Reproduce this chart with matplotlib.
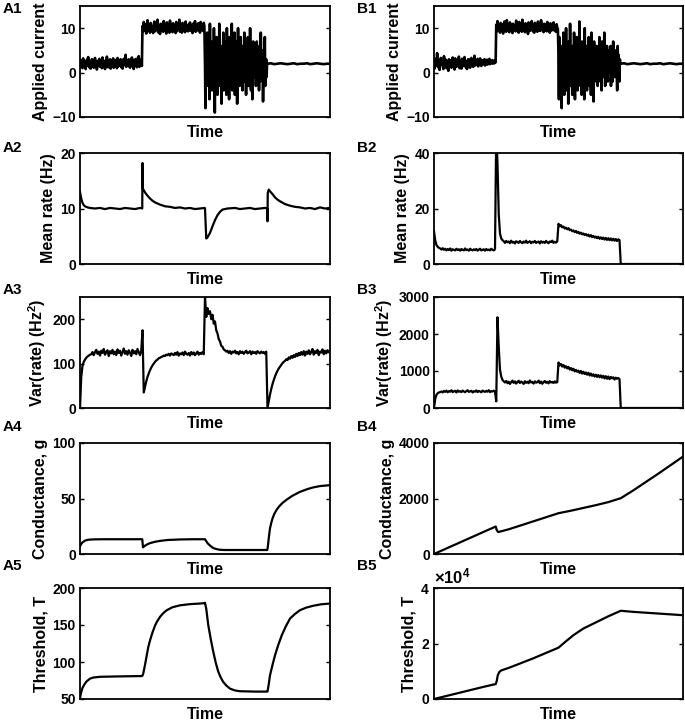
import numpy as np
import matplotlib
matplotlib.use("Agg")
import matplotlib.pyplot as plt

plt.rcParams["font.family"] = ["Liberation Sans", "DejaVu Sans"]
plt.rcParams["font.weight"] = "bold"
plt.rcParams["axes.labelweight"] = "bold"
plt.rcParams["mathtext.fontset"] = "custom"
plt.rcParams["mathtext.rm"] = "Liberation Sans:bold"
plt.rcParams["mathtext.bf"] = "Liberation Sans:bold"
plt.rcParams["mathtext.default"] = "bf"

# stimulus switch times (fraction of the run)
switch_times = [0.0, 0.25, 0.5, 0.75, 1.0]

# ---- column A: applied current, sampled per stimulus epoch
a1_seg1 = [2.1, 1.4, 2.8, 1.9, 1.0, 3.2, 2.4, 1.7, 2.5, 0.8, 2.0, 2.9, 1.6, 3.5, 2.2, 1.2, 2.2, 0.9, 1.8, 3.0,
           1.8, 2.6, 1.1, 2.0, 3.3, 1.5, 2.4, 0.7, 1.9, 2.7, 1.9, 3.1, 1.3, 2.5, 2.3, 1.0, 3.4, 1.6, 2.1, 2.0,
           0.8, 2.8, 1.4, 3.6, 2.3, 1.2, 2.5, 1.7, 3.0, 0.9, 2.2, 2.6, 1.5, 3.2, 1.1, 2.0, 2.4, 1.8, 2.9, 1.0,
           3.3, 1.4, 2.2, 1.6, 2.6, 3.0, 1.2, 2.7, 0.9, 1.9, 3.1, 1.7, 2.3, 4.0, 1.3, 2.1, 2.8, 1.5, 3.0, 1.8,
           1.1, 2.6, 2.0, 3.4, 1.4, 2.3, 0.8, 2.9, 1.6, 2.4, 3.1, 1.2, 2.5, 1.9, 3.7, 1.3, 2.2, 1.7, 2.9, 1.5]
a1_seg2 = [10.5, 9.2, 11.4, 10.1, 9.6, 10.9, 8.8, 10.3, 11.8, 9.4, 10.6, 9.9, 9.0, 11.2, 10.2, 9.7, 10.3, 8.9, 10.8, 11.5,
           9.3, 10.8, 10.0, 9.8, 11.9, 9.1, 10.4, 10.6, 8.7, 11.0, 9.5, 10.2, 10.7, 9.2, 11.6, 9.9, 10.5, 10.2, 8.8, 11.3,
           9.4, 10.1, 10.9, 9.0, 11.7, 10.3, 9.6, 10.5, 9.1, 11.1, 9.8, 10.4, 10.6, 8.9, 11.4, 9.3, 10.0, 10.8, 9.7, 11.9,
           9.2, 10.3, 10.5, 9.0, 11.2, 9.5, 10.1, 10.7, 9.1, 11.5, 9.6, 10.4, 10.0, 9.3, 10.9, 9.8, 11.3, 9.4, 10.6, 10.2,
           8.9, 11.0, 9.7, 10.4, 11.6, 9.2, 10.1, 10.8, 9.5, 11.1, 9.9, 10.3, 9.0, 11.4, 10.2, 9.6, 10.7, 9.4, 11.2, 10.5]
a1_seg3 = [2, -8, 6, 1, -1, 9, 3, -3, 4, 0, -6, 11, 2, 0, 7, -2, -4, 3, 5, -2,
           10, 1, -9, 5, 0, 1, 8, -1, -5, 2, 4, -3, 11, 2, -1, 6, -2, -7, 4, 0,
           3, 9, -4, 1, 3, -2, 7, 0, -5, 10, 2, -1, 5, 3, -6, 8, 1, 4, -3, 0,
           11, -4, 2, 6, -2, 1, 9, -5, 3, 0, 3, 7, -7, 1, 10, -1, 4, 5, -3, 2,
           8, -2, 0, 6, -4, 3, 4, 1, 9, -2, 5, 0, -5, 3, 3, 0, 8, -3, 2, 6,
           -1, 10, 1, -4, 2, 4, -6, 3, 7, 0, 4, -1, 2, 5, -3, 1, 7, -2, 3, 0,
           4, -4, 6, 1, -2, 9, 2, -1, 5, 3, -6.5, 0, 4, 2, 8, -3, 1, 3, -1, 2]
a1_seg4 = [2.0, 2.1, 1.9, 2.0, 2.1, 2.0, 1.9, 2.0, 2.1, 1.9, 2.0, 2.0, 2.1, 1.9, 2.0, 2.1, 2.0, 1.9, 2.0, 2.0]

# mean rate (Hz)
a2_t = [0, 0.005, 0.01, 0.015, 0.02, 0.03, 0.04, 0.06, 0.08, 0.10, 0.12, 0.14, 0.16, 0.18, 0.20, 0.22, 0.24, 0.249,
        0.25, 0.251, 0.255, 0.26, 0.27, 0.28, 0.29, 0.30, 0.32, 0.34, 0.36, 0.38, 0.40, 0.42, 0.44, 0.46, 0.48, 0.499,
        0.50, 0.505, 0.51, 0.52, 0.53, 0.54, 0.55, 0.56, 0.57, 0.59, 0.62, 0.64, 0.66, 0.68, 0.70, 0.72, 0.74, 0.749,
        0.75, 0.751, 0.755, 0.76, 0.77, 0.78, 0.79, 0.80, 0.82, 0.84, 0.86, 0.88, 0.90, 0.92, 0.94, 0.96, 0.98, 1.0]
a2_y = [13.0, 11.8, 11.0, 10.6, 10.4, 10.2, 10.1, 10.0, 10.1, 9.9, 10.1, 10.0, 9.9, 10.1, 10.0, 9.9, 10.1, 10.0,
        18.2, 13.6, 13.3, 12.9, 12.3, 11.8, 11.4, 11.1, 10.7, 10.4, 10.3, 10.1, 10.2, 10.0, 10.1, 9.9, 10.0, 10.1,
        10.0, 4.6, 4.8, 5.6, 6.8, 7.9, 8.8, 9.4, 9.8, 10.0, 10.1, 9.9, 10.0, 10.1, 9.9, 10.0, 10.1, 10.0,
        7.7, 12.8, 13.4, 13.1, 12.6, 12.0, 11.6, 11.3, 10.8, 10.5, 10.3, 10.2, 10.0, 10.1, 9.9, 10.2, 10.0, 10.1]

# variance of rate (Hz^2)
a3_seg1 = [0, 70, 95, 104, 109, 113, 116, 118, 120, 121, 126, 119, 126, 131, 122, 127, 118, 129, 124, 133,
           120, 126, 130, 117, 128, 123, 131, 121, 127, 119, 132, 124, 129, 118, 126, 134, 122, 128, 120, 130,
           125, 117, 131, 123, 128, 121, 133, 126, 119, 129]
a3_seg2 = [175, 35, 48, 60, 70, 78, 85, 91, 96, 100, 104, 107, 109, 112, 113, 115, 116, 118, 117, 120,
           119, 122, 118, 123, 121, 119, 124, 120, 126, 118, 123, 121, 125, 119, 127, 122, 120, 124, 118, 126,
           121, 125, 119, 123, 127, 120, 124, 122, 126, 121]
a3_seg3 = [250, 205, 225, 212, 218, 200, 210, 190, 195, 175, 168, 155, 150, 140, 138, 132, 130, 127, 129, 124,
           128, 122, 127, 125, 129, 123, 126, 121, 128, 124, 127, 122, 126, 129, 123, 125, 128, 121, 127, 124,
           126, 122, 128, 125, 123, 127, 124, 126, 122, 127]
a3_seg4 = [0, 15, 30, 43, 54, 63, 71, 78, 84, 89, 93, 97, 101, 104, 106, 110, 108, 114, 111, 117,
           113, 119, 115, 122, 117, 124, 119, 126, 120, 128, 118, 127, 122, 130, 121, 126, 133, 120, 128, 124,
           131, 119, 127, 125, 132, 121, 129, 123, 130, 126, 124]

# conductance g
a4_t = [0, 0.005, 0.01, 0.02, 0.03, 0.04, 0.06, 0.10, 0.15, 0.20, 0.249, 0.252, 0.26, 0.27, 0.28, 0.30, 0.32,
        0.35, 0.40, 0.45, 0.50, 0.505, 0.51, 0.52, 0.53, 0.54, 0.55, 0.56, 0.58, 0.62, 0.70, 0.749, 0.751, 0.754,
        0.757, 0.76, 0.765, 0.77, 0.778, 0.787, 0.797, 0.81, 0.827, 0.85, 0.88, 0.91, 0.933, 0.96, 1.0]
a4_y = [7, 9, 10.5, 12, 12.7, 13, 13.2, 13.3, 13.3, 13.3, 13.3, 6.0, 7.5, 8.8, 9.8, 11.0, 11.8,
        12.6, 13.1, 13.3, 13.3, 11.5, 9.8, 7.6, 5.8, 4.8, 4.2, 3.8, 3.6, 3.6, 3.6, 3.6, 6, 12,
        18, 23, 28, 32, 36.5, 40, 43, 46, 49, 52.5, 56, 58.5, 60, 61.2, 62]

# threshold T
a5_t = [0, 0.004, 0.01, 0.018, 0.027, 0.04, 0.053, 0.08, 0.15, 0.247,
        0.25, 0.253, 0.26, 0.267, 0.273, 0.28, 0.29, 0.30, 0.307, 0.32, 0.333, 0.347, 0.37, 0.40, 0.44, 0.48, 0.496,
        0.50, 0.505, 0.513, 0.523, 0.533, 0.543, 0.553, 0.563, 0.573, 0.586, 0.60, 0.62, 0.64, 0.70, 0.747,
        0.75, 0.755, 0.76, 0.77, 0.78, 0.793, 0.807, 0.823, 0.84, 0.86, 0.88, 0.905, 0.933, 0.965, 1.0]
a5_y = [51, 58, 65, 70, 74, 77.5, 79, 80, 80.5, 81,
        81.5, 84.5, 96, 109, 120, 129, 140, 149, 154, 161, 166, 170, 174, 176.6, 178.2, 179, 179.5,
        180, 172, 150, 131, 114, 99, 87, 79, 73, 68, 64, 61.5, 60.5, 60, 60,
        60, 70, 82, 96, 109, 123, 136, 148, 158.7, 165, 170, 173.5, 176, 178, 179]

# ---- column B
b1_seg1 = [2.3, 0.9, 3.1, 2.0, 1.5, 4.4, 2.2, 1.2, 2.6, 0.6, 1.9, 3.3, 1.8, 2.4, 2.2, 0.8, 3.7, 2.1, 1.4, 2.9,
           1.0, 2.4, 1.7, 0.4, 3.0, 2.2, 1.6, 2.7, 1.1, 2.0, 3.4, 1.9, 2.1, 0.7, 3.2, 2.3, 1.3, 2.8, 1.7, 2.0,
           3.6, 1.0, 2.5, 2.1, 0.9, 3.1, 1.4, 2.3, 1.8, 3.5, 2.0, 1.2, 2.6, 0.8, 2.2, 3.0, 1.5, 2.9, 1.1, 2.4,
           3.3, 1.7, 2.4, 1.3, 2.0, 3.8, 1.6, 2.7, 1.9, 2.3, 3.1, 1.4, 2.5, 1.8, 3.2, 2.0, 1.5, 2.8, 2.2, 1.9,
           2.6, 3.0, 1.6, 2.4, 2.1, 2.9, 1.8, 2.6, 2.3, 3.1, 1.9, 2.5, 2.2, 2.8, 2.0, 2.4, 2.7, 2.1, 2.6, 2.3]
b1_seg2 = [10.8, 9.3, 11.6, 10.2, 9.7, 10.5, 9.0, 11.2, 10.1, 9.5, 10.9, 8.8, 10.4, 11.5, 9.6, 10.3, 9.2, 11.8, 10.0, 9.9,
           10.6, 9.1, 11.3, 10.2, 9.4, 10.7, 8.9, 11.0, 10.3, 9.8, 10.4, 9.3, 11.7, 10.1, 9.6, 10.2, 9.0, 11.4, 10.5, 9.7,
           10.8, 9.2, 11.9, 10.0, 9.5, 10.5, 9.1, 11.1, 10.4, 9.8, 10.6, 8.7, 11.3, 10.1, 9.4, 10.9, 9.6, 11.6, 10.2, 9.3,
           10.4, 9.0, 11.2, 10.3, 9.7, 10.7, 9.2, 11.5, 10.0, 9.5, 10.3, 9.4, 11.8, 10.2, 9.9, 10.6, 9.1, 11.0, 10.4, 9.6,
           10.9, 9.3, 11.4, 10.1, 9.8, 10.5, 9.0, 11.1, 10.3, 9.5, 10.8, 9.7, 11.3, 10.0, 9.4, 10.6, 9.2, 10.9, 10.2, 9.8]
b1_seg3 = [4, -6, 8, 2, -1, 6, 1, -8, 3, 0, 1, 9, 2, -5, 5, 3, -2, 10, 0, -4,
           2, 4, -7, 7, 1, 0, 11, 2, -3, 4, 0, -5, 6, 3, -1, 9, 1, -6, 3, 2,
           -2, 8, 0, -4, 5, 2, 0, 11.5, 1, -3, 2, 4, -5, 7, 0, -1, 4, 3, -6, 10,
           1, -2, 6, 2, -4, 3, 0, 1, 8, 2, -3, 5, 1, -5, 9, 0, -1, 2, 4, -6.5,
           7, 1, 0, 4, 2, -2, 6, 0, -3, 5, 3, 0, 8, 1, -2, 3, 2, -4, 7, 0,
           1, 4, -1, 9, 2, -3, 2, 3, 0, 6, 1, -2, 5, 2, 1, 3, 0, 6, -3, 2,
           4, 1, -2, 7, 0, 3, 2, -1, 5, 1, 3, 0, -4, 6, 2, 4, 1, -2, 3, 2]
b1_seg4 = [2.0, 2.1, 1.9, 2.0, 2.1, 2.0, 1.9, 2.0, 2.1, 1.9, 2.0, 2.0, 2.1, 1.9, 2.0, 2.1, 2.0, 1.9, 2.0, 2.0]

b2_seg1 = [11.8, 8.5, 6.8, 6.2, 5.8, 5.6, 5.2, 5.7, 5.1, 5.5, 4.9, 5.4, 5.0, 5.6, 4.8, 5.3, 5.1, 4.9, 5.5, 5.0,
           5.3, 4.8, 5.4, 5.1, 4.9, 5.6, 5.0, 5.2, 4.8, 5.5, 5.1, 4.9, 5.3, 5.0, 5.4, 4.8, 5.2, 5.5, 4.9, 5.1,
           5.3, 4.8, 5.4, 5.0, 5.2, 4.9, 5.5, 5.1, 4.9, 5.3]
b2_seg2 = [48, 36, 18, 11, 9.2, 8.6, 8.2, 7.6, 8.3, 7.8, 8.1, 7.5, 8.4, 7.7, 8.0, 7.4, 8.2, 7.9, 7.6, 8.3,
           7.8, 7.5, 8.1, 7.7, 8.4, 7.6, 7.9, 8.2, 7.5, 8.0, 7.8, 8.3, 7.6, 7.9, 8.1, 7.4, 8.2, 7.7, 8.0, 7.6,
           8.3, 7.8, 7.5, 8.1, 7.9, 8.4, 7.6, 8.0, 7.7, 8.2]
b2_seg3 = [14.5, 13.6, 14.0, 13.2, 13.5, 12.8, 13.1, 12.5, 12.9, 12.2, 12.4, 11.8, 12.1, 11.5, 11.9, 11.2, 11.6, 10.9,
           11.3, 10.7, 11.0, 10.4, 10.8, 10.2, 10.6, 9.9, 10.4, 9.7, 10.1, 9.5, 9.9, 9.3, 9.8, 9.1, 9.6, 9.0,
           9.5, 8.8, 9.4, 8.7, 9.3, 8.6, 9.2, 8.5, 9.1, 8.4, 9.0, 8.3, 8.9, 8.6]
b2_seg4 = [0, 0]

b3_seg1 = [0, 250, 360, 400, 420, 430, 445, 420, 460, 435, 470, 425, 455, 440, 480, 430, 450, 465, 420, 475,
           440, 455, 430, 470, 445, 425, 460, 480, 435, 450, 465, 420, 455, 440, 475, 430, 460, 445, 425, 470,
           450, 435, 465, 440, 480, 430, 455, 445, 470, 440]
b3_seg2 = [180, 2450, 1650, 1030, 850, 760, 720, 690, 730, 670, 710, 650, 700, 740, 680, 720, 660, 700, 735, 675,
           715, 690, 650, 725, 680, 710, 670, 745, 690, 705, 660, 720, 685, 700, 740, 670, 715, 655, 700, 730,
           680, 710, 665, 725, 690, 705, 675, 720, 685, 700]
b3_seg3 = [1230, 1150, 1190, 1120, 1160, 1090, 1130, 1070, 1110, 1040, 1080, 1020, 1060, 990, 1030, 980, 1010, 950,
           1000, 930, 980, 920, 960, 900, 950, 880, 930, 870, 910, 850, 900, 840, 890, 830, 880, 820, 870, 800,
           860, 790, 850, 780, 840, 800, 830, 770, 820, 790, 810, 780]
b3_seg4 = [0, 0]

b4_t = [0, 0.1, 0.2, 0.248, 0.252, 0.258, 0.3, 0.4, 0.5, 0.55, 0.6, 0.65, 0.7, 0.75, 0.8, 0.9, 1.0]
b4_y = [0, 400, 800, 990, 860, 790, 890, 1180, 1470, 1560, 1660, 1760, 1870, 2010, 2290, 2890, 3510]

b5_t = [0, 0.1, 0.2, 0.248, 0.252, 0.256, 0.262, 0.27, 0.3, 0.4, 0.5, 0.53, 0.56, 0.6, 0.65, 0.7, 0.75, 0.8, 0.9, 1.0]
b5_y = [0, 2200, 4400, 5400, 6500, 8500, 9700, 10300, 11200, 14700, 18500, 20800, 23000, 25400, 27600, 29800,
        31800, 31400, 30800, 30200]

ylabels = ["Applied current", "Mean rate (Hz)", "Var(rate) (Hz$^2$)", "Conductance, g", "Threshold, T"]
a_yticks = [[-10, 0, 10], [0, 10, 20], [0, 100, 200], [0, 50, 100], [50, 100, 150, 200]]
a_ylims = [(-10, 15), (0, 20), (0, 250), (0, 100), (50, 200)]
b_yticks = [[-10, 0, 10], [0, 20, 40], [0, 1000, 2000, 3000], [0, 2000, 4000], [0, 20000, 40000]]
b_ylims = [(-10, 15), (0, 40), (0, 3000), (0, 4000), (0, 40000)]


def stitch(segments):
    # spread each epoch's samples evenly over its own time window
    t, y = [], []
    for k, seg in enumerate(segments):
        last = k == len(segments) - 1
        t.append(np.linspace(switch_times[k], switch_times[k + 1], len(seg), endpoint=last))
        y.append(np.asarray(seg, dtype=float))
    return np.concatenate(t), np.concatenate(y)


a_traces = [stitch([a1_seg1, a1_seg2, a1_seg3, a1_seg4]),
            (a2_t, a2_y),
            stitch([a3_seg1, a3_seg2, a3_seg3, a3_seg4]),
            (a4_t, a4_y),
            (a5_t, a5_y)]
b_traces = [stitch([b1_seg1, b1_seg2, b1_seg3, b1_seg4]),
            stitch([b2_seg1, b2_seg2, b2_seg3, b2_seg4]),
            stitch([b3_seg1, b3_seg2, b3_seg3, b3_seg4]),
            (b4_t, b4_y),
            (b5_t, b5_y)]

W, H = 685, 721
fig = plt.figure(figsize=(W / 100, H / 100), dpi=100)

row_tops = [6, 153, 297, 443, 588]
ax_h = 111
col_left = {"A": 80, "B": 434}
col_w = {"A": 250, "B": 249}
label_y = [9, 148, 290, 427, 566]
label_x = {"A": 3, "B": 357}

for col, traces, yticks, ylims in [("A", a_traces, a_yticks, a_ylims), ("B", b_traces, b_yticks, b_ylims)]:
    for r in range(5):
        ax = fig.add_axes([col_left[col] / W, 1 - (row_tops[r] + ax_h) / H, col_w[col] / W, ax_h / H])
        t, y = traces[r]
        ax.plot(t, y, color="black", lw=1.9 if r == 0 else 1.6)
        ax.set_xlim(0, 1)
        ax.set_ylim(*ylims[r])
        ax.set_yticks(yticks[r])
        ax.set_xticks([])
        ax.tick_params(axis="y", direction="in", right=True, length=3, width=1, labelsize=10, pad=3)
        for s in ax.spines.values():
            s.set_linewidth(1.3)
        ax.set_ylabel(ylabels[r], fontsize=11.5, labelpad=3)
        ax.set_xlabel("Time", fontsize=11.5, labelpad=6)
        if col == "B" and r == 4:
            ax.ticklabel_format(axis="y", style="sci", scilimits=(0, 0), useMathText=True)
            ax.yaxis.get_offset_text().set_fontsize(12)
        fig.text(label_x[col] / W, 1 - label_y[r] / H, f"{col}{r + 1}", fontsize=11,
                 fontweight="bold", va="center", ha="left")

fig.savefig("out.png", dpi=100)
